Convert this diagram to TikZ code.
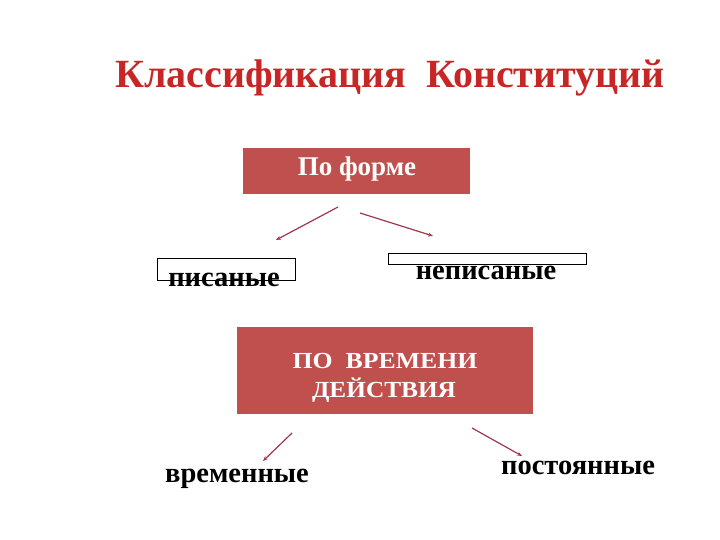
\documentclass[tikz,border=0pt]{standalone}
\usepackage{fontspec}
\usepackage{graphicx}
\setmainfont{Liberation Serif}
\usetikzlibrary{arrows.meta}
\definecolor{titlered}{RGB}{200,38,38}
\definecolor{boxred}{RGB}{192,80,77}
\definecolor{arrowc}{RGB}{160,55,75}
\tikzset{
  redbox/.style={fill=boxred, draw=none, inner sep=0pt},
  boxtext/.style={text=white, align=center, inner sep=0pt},
  label/.style={font=\fontsize{28.5}{30}\selectfont\bfseries, text=black, inner sep=0pt, anchor=base},
  frame/.style={draw=black, line width=0.8pt, fill=none, inner sep=0pt},
  conn/.style={draw=arrowc, line width=1.2pt, -{Stealth[length=5pt,width=4pt]}}
}
\begin{document}
\begin{tikzpicture}[x=1pt,y=-1pt]
\useasboundingbox (0,0) rectangle (720,540);
% title
\node[font=\fontsize{40}{44}\selectfont\bfseries, text=titlered, anchor=base, inner sep=0pt] (title) at (390,88) {Классификация\ \ Конституций};
% box 1
\node[redbox, minimum width=227pt, minimum height=46pt] (forme) at (356.5,171) {};
\node[boxtext, font=\fontsize{27}{29}\selectfont\bfseries, anchor=base] (formetxt) at (357,175.5) {По форме};
% frames
\node[frame, minimum width=138pt, minimum height=22pt] (pframe) at (226,269) {};
\node[frame, minimum width=198pt, minimum height=11pt] (nframe) at (487,258.5) {};
% labels
\node[label] (pis) at (224,286) {писаные};
\node[label] (nepis) at (486,279) {неписаные};
% box 2
\node[redbox, minimum width=296pt, minimum height=87pt] (vrem) at (385,370.5) {};
\node[boxtext, font=\fontsize{23}{29}\selectfont\bfseries, anchor=base] (vremtxt1) at (385,368) {\scalebox{1.12}[1]{ПО\ \ ВРЕМЕНИ}};
\node[boxtext, font=\fontsize{23}{29}\selectfont\bfseries, anchor=base] (vremtxt2) at (384,397) {\scalebox{1.1}[1]{ДЕЙСТВИЯ}};
\node[label] (vr) at (237,482) {временные};
\node[label] (post) at (578,474) {постоянные};
% arrows
\coordinate (a1s) at (338,207); \coordinate (a1e) at (276,240);
\coordinate (a2s) at (360,213); \coordinate (a2e) at (433,236);
\coordinate (a3s) at (292,433); \coordinate (a3e) at (263,461);
\coordinate (a4s) at (472,428); \coordinate (a4e) at (522,456);
\draw[conn] (a1s) -- (a1e);
\draw[conn] (a2s) -- (a2e);
\draw[conn] (a3s) -- (a3e);
\draw[conn] (a4s) -- (a4e);
\end{tikzpicture}
\end{document}
